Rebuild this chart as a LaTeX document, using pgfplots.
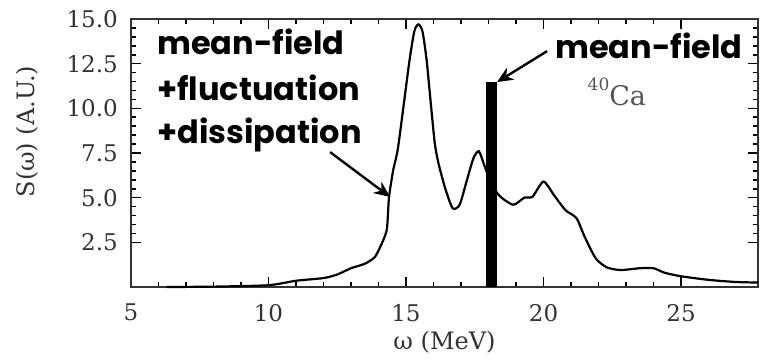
\documentclass[border=0pt]{standalone}
\usepackage{fontspec}
\setmainfont{DejaVu Serif}
\newfontfamily\comic{Poppins}
\usepackage{pgfplots}
\pgfplotsset{compat=1.18}
\usetikzlibrary{arrows.meta}
\definecolor{axgray}{HTML}{333333}
\definecolor{cagray}{HTML}{555555}
\begin{document}
\begin{tikzpicture}
\begin{axis}[
  scale only axis,
  width=627pt, height=268pt,
  xmin=5, xmax=27.8, ymin=0, ymax=15,
  xtick={5,10,15,20,25},
  ytick={2.5,5,7.5,10,12.5,15},
  minor x tick num=4, minor y tick num=4,
  tick align=inside,
  axis line style={axgray, line width=1.3pt},
  every tick/.append style={black, line width=1.6pt},
  every major tick/.append style={major tick length=10pt},
  every minor tick/.append style={minor tick length=5pt},
  /pgf/number format/assume math mode=true,
  yticklabel style={/pgf/number format/fixed, /pgf/number format/fixed zerofill, /pgf/number format/precision=1, xshift=-13pt},
  ticklabel style={font=\fontsize{23}{23}\selectfont, text=axgray, inner sep=0pt},
  xticklabel style={yshift=-17pt},
  xlabel={ω (MeV)},
  ylabel={S(ω) (A.U.)},
  label style={font=\fontsize{24}{24}\selectfont, text=axgray},
  xlabel style={at={(axis description cs:0.5,-0.205)}, anchor=center},
  ylabel style={at={(axis description cs:-0.166,0.58)}, anchor=center},
  clip=false,
]
\addplot[black, line width=2.2pt, smooth, tension=0.4] coordinates {
(6.3,0.0) (8,0.02) (10,0.1) (11,0.35) (12,0.5) (12.5,0.7) (13,1.05) (13.5,1.3)
(13.85,1.65) (14.05,2.2) (14.3,3.2) (14.38,5.0) (14.53,6.5) (14.7,7.7) (14.9,10.0)
(15.12,12.6) (15.3,14.3) (15.45,14.7) (15.6,14.3) (15.75,12.7) (15.9,10.3)
(16.05,8.0) (16.2,6.8) (16.45,5.4) (16.7,4.4) (16.95,4.6) (17.2,5.9) (17.45,7.2)
(17.65,7.6) (17.85,6.8) (18.1,5.8) (18.4,5.1) (18.9,4.6) (19.3,5.0) (19.6,5.05)
(20.0,5.9) (20.4,5.1) (20.8,4.3) (21.2,3.85) (21.5,2.8) (21.9,1.6) (22.3,1.1)
(22.8,0.95) (23.5,1.05) (24.0,1.05) (24.4,0.8) (25.0,0.6) (26.0,0.4) (27.0,0.28)
(27.8,0.25)
};
\addplot[fill=black, draw=none] coordinates {
(17.9,0) (17.9,11.45) (18.32,11.45) (18.32,0)
} -- cycle;
\node[anchor=base west, inner sep=0pt, font=\comic\bfseries\fontsize{32}{32}\selectfont] at (axis cs:5.95,13.0) {mean-field};
\node[anchor=base west, inner sep=0pt, font=\comic\bfseries\fontsize{32}{32}\selectfont] at (axis cs:5.95,10.45) {+fluctuation};
\node[anchor=base west, inner sep=0pt, font=\comic\bfseries\fontsize{32}{32}\selectfont] at (axis cs:5.95,8.05) {+dissipation};
\node[anchor=base west, inner sep=0pt, font=\comic\bfseries\fontsize{32}{32}\selectfont] at (axis cs:20.42,12.8) {mean-field};
\draw[-{Stealth[length=16pt,width=14pt]}, line width=2.4pt] (axis cs:12.24,7.55) -- (axis cs:14.42,5.04);
\draw[-{Stealth[length=16pt,width=14pt]}, line width=2.4pt] (axis cs:20.13,13.2) -- (axis cs:18.31,11.47);
\node[anchor=base west, text=cagray, font=\fontsize{27}{27}\selectfont, inner sep=0pt] at (axis cs:21.6,10.18) {\raisebox{0.55em}{\fontsize{17}{17}\selectfont 40}Ca};
\end{axis}
\pgfresetboundingbox
\path[use as bounding box] (current axis.south west) ++(-131pt,-72pt) rectangle ([shift={(4pt,19pt)}]current axis.north east);
\end{tikzpicture}
\end{document}
